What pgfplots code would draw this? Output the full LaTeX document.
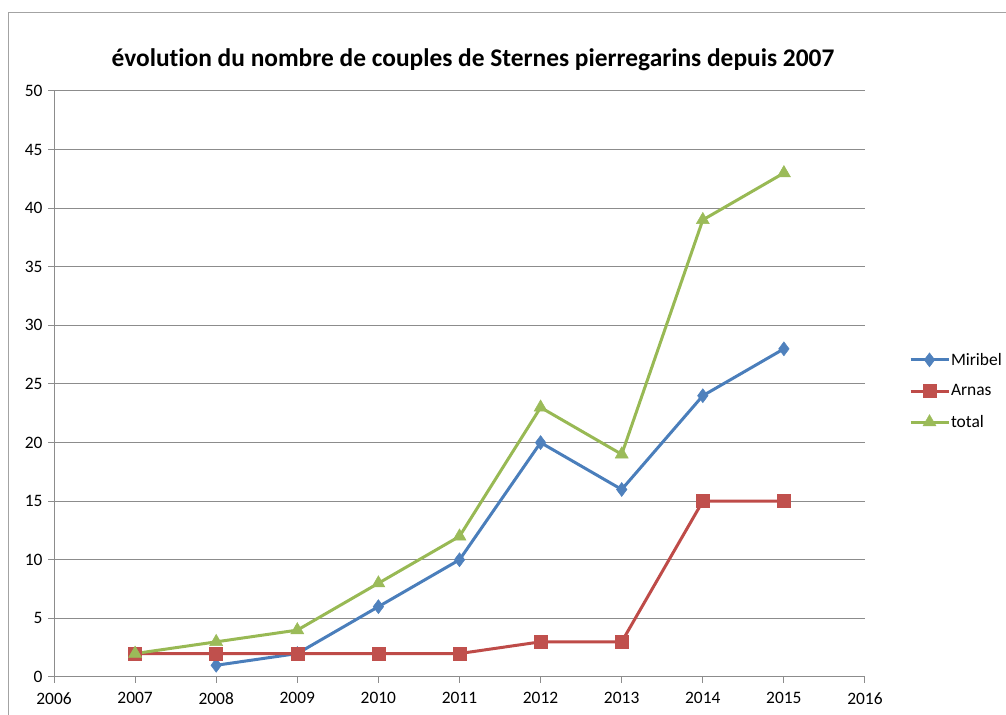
\documentclass[border=0pt]{standalone}
\usepackage{pgfplots}
\pgfplotsset{compat=1.18}
\usepackage{fontspec}
\setmainfont{Carlito}[Ligatures={NoCommon}]
\definecolor{cblue}{HTML}{4A7EBB}
\definecolor{cbluem}{HTML}{4F81BD}
\definecolor{cred}{HTML}{BE4B48}
\definecolor{credm}{HTML}{C0504D}
\definecolor{cgreen}{HTML}{98B954}
\definecolor{cgreenm}{HTML}{9BBB59}
\definecolor{gridc}{HTML}{8C8C8C}
\begin{document}
\begin{tikzpicture}[x=1bp,y=1bp]
\path[use as bounding box] (0,0) rectangle (1006,715);
\draw[color=gridc!80, line width=1bp] (8,0) -- (8,702) -- (1006,702);
\node[font=\fontsize{25.5}{28}\selectfont\bfseries, anchor=base] at (473,715-67) {évolution du nombre de couples de Sternes pierregarins depuis 2007};
\begin{axis}[
  at={(54bp,38bp)}, anchor=south west,
  scale only axis, width=811bp, height=586bp,
  xmin=2006, xmax=2016, ymin=0, ymax=50,
  xtick={2006,...,2016}, ytick={0,5,...,50},
  /pgf/number format/1000 sep={},
  /pgf/number format/assume math mode=true,
  ticklabel style={font=\fontsize{17.5}{20}\selectfont},
  xticklabel style={yshift=-6bp},
  yticklabel style={xshift=-2bp},
  axis x line*=bottom, axis y line*=left,
  axis line style={color=gridc, line width=1bp},
  tick style={color=gridc, line width=1bp},
  tick align=outside, major tick length=6bp,
  ymajorgrids, grid style={color=gridc, line width=1bp},
  legend style={at={(1.054,0.488)}, anchor=west, draw=none, fill=none,
    font=\fontsize{17.5}{20}\selectfont, row sep=16bp, inner sep=0pt,
    nodes={inner sep=1bp}},
  legend cell align=left,
  legend image code/.code={\draw[mark repeat=2,mark phase=2] plot coordinates {(0bp,0bp) (19bp,0bp) (38bp,0bp)};},
  clip=false,
]
\addplot[color=cblue, line width=3bp, mark=diamond*, mark size=7bp, mark options={fill=cbluem, draw=cbluem, line width=0.5bp}] coordinates {
(2008,1) (2009,2) (2010,6) (2011,10) (2012,20) (2013,16) (2014,24) (2015,28)};
\addlegendentry{Miribel}
\addplot[color=cred, line width=3bp, mark=square*, mark size=6.5bp, mark options={fill=credm, draw=credm, line width=0.5bp}] coordinates {
(2007,2) (2008,2) (2009,2) (2010,2) (2011,2) (2012,3) (2013,3) (2014,15) (2015,15)};
\addlegendentry{Arnas}
\addplot[color=cgreen, line width=3bp, mark=triangle*, mark size=7.5bp, mark options={fill=cgreenm, draw=cgreenm, line width=0.5bp}] coordinates {
(2007,2) (2008,3) (2009,4) (2010,8) (2011,12) (2012,23) (2013,19) (2014,39) (2015,43)};
\addlegendentry{total}
\end{axis}
\end{tikzpicture}
\end{document}
